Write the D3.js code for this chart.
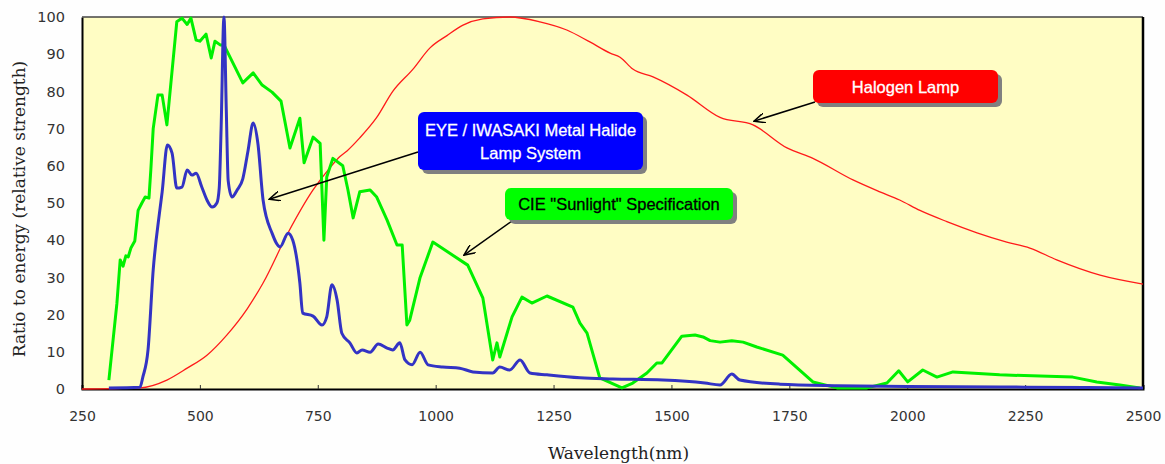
<!DOCTYPE html>
<html>
<head>
<meta charset="utf-8">
<script src="https://cdn.jsdelivr.net/npm/d3@7"></script>
<style>
  body { margin: 0; background: #fefefe; }
  svg { display: block; }
</style>
</head>
<body>
<div id="chart-container"></div>
<script>
// x axis ticks
var xTicks = [250, 500, 750, 1000, 1250, 1500, 1750, 2000, 2250, 2500];
var yTicks = [0, 10, 20, 30, 40, 50, 60, 70, 80, 90, 100];

// CIE "Sunlight" Specification
var sunWl = [307, 324, 331, 337, 343, 348, 354, 362, 369, 377, 384, 392, 396, 401, 411, 420, 430, 451, 462, 473, 481, 492, 500, 513, 524, 532, 543, 551, 591, 613, 632, 653, 672, 691, 712, 721, 740, 755, 763, 769, 782, 803, 814, 825, 839, 861, 875, 897, 918, 929, 939, 945, 967, 994, 1068, 1100, 1121, 1130, 1136, 1162, 1183, 1204, 1236, 1291, 1306, 1321, 1348, 1395, 1418, 1448, 1469, 1480, 1522, 1550, 1567, 1582, 1603, 1628, 1652, 1681, 1736, 1800, 1851, 1915, 1957, 1982, 2001, 2033, 2063, 2097, 2196, 2351, 2402, 2451, 2493];
var sunVal = [2.4, 23, 34.7, 33, 35.8, 35.5, 38, 39.8, 48, 50, 51.6, 51.3, 59, 70, 79, 79, 71, 98.7, 99.7, 98, 99.7, 93.8, 93.5, 95.4, 89, 93.5, 92.5, 92.5, 82.3, 85, 81.7, 79.8, 77.4, 64.8, 72.8, 60.8, 67.7, 66, 40, 57, 62, 60, 53.5, 46, 53, 53.5, 51.6, 45.4, 38.7, 38.7, 17.2, 18.5, 30, 39.5, 33.3, 24.5, 7.8, 12.4, 8.6, 19.4, 24.7, 23.1, 25, 22, 17.7, 15, 3, 0.3, 1.6, 4.3, 7, 7, 14.2, 14.5, 14, 13, 12.6, 13, 12.6, 11.3, 9.1, 1.9, 0.3, 0.3, 1.6, 4.9, 1.9, 5.1, 3.2, 4.6, 3.8, 3.2, 1.9, 1.1, 0.3];

// EYE / IWASAKI Metal Halide Lamp System
var mhWl = [307, 373, 379, 390, 401, 415, 420, 431, 441, 451, 462, 473, 483, 492, 504, 515, 526, 536, 541, 545, 551, 556, 560, 568, 579, 591, 602, 613, 623, 634, 653, 670, 687, 697, 712, 718, 740, 759, 769, 780, 791, 801, 818, 833, 844, 861, 878, 897, 909, 924, 935, 950, 967, 984, 1015, 1051, 1079, 1121, 1136, 1157, 1179, 1200, 1236, 1306, 1376, 1482, 1571, 1603, 1628, 1645, 1730, 1850, 2000, 2250, 2500];
var mhVal = [0.3, 0.5, 3.2, 10.5, 32, 48, 53, 65.6, 63.4, 54, 54.3, 58.9, 57.5, 58, 54.3, 50.8, 48.9, 50, 54, 70, 100, 75, 56, 51.6, 53.5, 56.5, 64, 71.5, 66, 50.8, 41.9, 38.2, 41.9, 40, 28.5, 20.4, 19.6, 17.2, 19.4, 28, 23.9, 15, 12.4, 9.7, 10.5, 9.9, 12.1, 11, 10.5, 12.4, 7.8, 6.5, 9.9, 6.5, 5.9, 5.6, 4.6, 4.3, 5.9, 5.1, 7.8, 4.3, 3.8, 3, 2.7, 2.4, 1.6, 1.1, 4, 2.4, 1.3, 0.9, 0.7, 0.5, 0.3];

// Halogen Lamp
var halWl = [250, 373, 430, 473, 515, 557, 600, 634, 687, 740, 776, 797, 812, 839, 875, 909, 952, 988, 1024, 1058, 1100, 1157, 1221, 1278, 1327, 1370, 1391, 1418, 1461, 1533, 1603, 1673, 1745, 1800, 1885, 1942, 1984, 2027, 2084, 2148, 2211, 2260, 2317, 2409, 2500];
var halVal = [0, 0.3, 2.4, 5.6, 9.1, 14.5, 21.5, 28.5, 42, 53.5, 59.5, 62.5, 64, 67.5, 73, 80, 86, 91.7, 95, 97.8, 99.5, 100, 98.7, 96.5, 93.3, 90.3, 89.2, 86, 83.9, 79, 73, 71, 64.8, 62, 56.2, 53, 50.8, 48, 45, 42, 39.5, 37.9, 34.7, 30.6, 28.2];

// callout labels and the data point each arrow points at
var calloutText = [["Halogen Lamp"], ["EYE / IWASAKI Metal Halide", "Lamp System"], ["CIE \"Sunlight\" Specification"]];
var calloutTipWl = [1675, 647, 1060];
var calloutTipVal = [72, 51, 36];

document.addEventListener('DOMContentLoaded', function() {
  visualise();
});

function visualise() {
  const svgWidth = 1165;
  const svgHeight = 464;
  const margin = {top: 17, left: 82, bottom: 75, right: 22};
  const w = svgWidth - margin.left - margin.right;
  const h = svgHeight - margin.top - margin.bottom;

  const svg = d3.select('#chart-container')
    .append('svg')
    .attr('width', svgWidth)
    .attr('height', svgHeight);

  const defs = svg.append('defs');
  defs.append('marker')
    .attr('id', 'arrow')
    .attr('viewBox', '0 0 12 10')
    .attr('refX', 11)
    .attr('refY', 5)
    .attr('markerWidth', 12)
    .attr('markerHeight', 10)
    .attr('markerUnits', 'userSpaceOnUse')
    .attr('orient', 'auto')
    .append('path')
    .attr('d', 'M0,0 L11,5 L0,10')
    .attr('fill', 'none')
    .attr('stroke', '#000')
    .attr('stroke-width', 1.5);

  const chart = svg.append('g')
    .attr('transform', 'translate(' + margin.left + ',' + margin.top + ')');

  const x = d3.scaleLinear().domain([250, 2500]).range([0, w]);
  const y = d3.scaleLinear().domain([0, 100]).range([h, 0]);

  // plot background
  chart.append('rect')
    .attr('width', w)
    .attr('height', h)
    .attr('fill', '#fffdc4');

  // x axis, ticks pointing inward
  const xAxis = chart.append('g')
    .attr('transform', 'translate(0,' + h + ')')
    .call(d3.axisBottom(x).tickValues(xTicks).tickSize(-4).tickPadding(22).tickFormat(d3.format('d')));
  xAxis.select('.domain').attr('stroke', '#000').attr('stroke-width', 2);
  xAxis.selectAll('.tick line').attr('stroke', '#333');
  xAxis.selectAll('text')
    .attr('font-family', 'DejaVu Sans')
    .attr('font-size', 14)
    .attr('fill', '#333');

  const yAxis = chart.append('g')
    .call(d3.axisLeft(y).tickValues(yTicks).tickSize(0).tickPadding(17));
  yAxis.select('.domain').attr('stroke', '#000').attr('stroke-width', 2);
  yAxis.selectAll('text')
    .attr('font-family', 'DejaVu Sans')
    .attr('font-size', 14.5)
    .attr('fill', '#333');

  // top and right frame
  chart.append('line')
    .attr('x1', 0).attr('x2', w).attr('y1', 0).attr('y2', 0)
    .attr('stroke', '#444').attr('stroke-width', 1.5);
  chart.append('line')
    .attr('x1', w).attr('x2', w).attr('y1', 0).attr('y2', h)
    .attr('stroke', '#000').attr('stroke-width', 2.5);

  function series(wl, val) {
    return wl.map(function(d, i) { return {wl: d, v: val[i]}; });
  }

  const straight = d3.line()
    .x(function(d) { return x(d.wl); })
    .y(function(d) { return y(d.v); });
  const smooth = d3.line()
    .x(function(d) { return x(d.wl); })
    .y(function(d) { return y(d.v); })
    .curve(d3.curveMonotoneX);

  chart.append('path')
    .datum(series(halWl, halVal))
    .attr('fill', 'none')
    .attr('stroke', '#ff1a1a')
    .attr('stroke-width', 1.3)
    .attr('d', smooth);

  chart.append('path')
    .datum(series(sunWl, sunVal))
    .attr('fill', 'none')
    .attr('stroke', '#00f000')
    .attr('stroke-width', 3)
    .attr('stroke-linejoin', 'round')
    .attr('d', straight);

  chart.append('path')
    .datum(series(mhWl, mhVal))
    .attr('fill', 'none')
    .attr('stroke', '#3333c4')
    .attr('stroke-width', 3)
    .attr('stroke-linejoin', 'round')
    .attr('d', smooth);

  // callout boxes (page coordinates)
  const boxes = [
    {x: 813, y: 70, w: 185, h: 33, fill: '#ff0000', color: '#fff', tail: [815, 102]},
    {x: 418, y: 112, w: 225, h: 58, fill: '#0000ff', color: '#fff', tail: [418, 152]},
    {x: 505, y: 188, w: 228, h: 32, fill: '#00ff00', color: '#000', tail: [512, 221]}
  ];

  boxes.forEach(function(b, i) {
    svg.append('line')
      .attr('x1', b.tail[0]).attr('y1', b.tail[1])
      .attr('x2', margin.left + x(calloutTipWl[i]))
      .attr('y2', margin.top + y(calloutTipVal[i]))
      .attr('stroke', '#000')
      .attr('stroke-width', 1.5)
      .attr('marker-end', 'url(#arrow)');
  });

  boxes.forEach(function(b, i) {
    svg.append('rect')
      .attr('x', b.x + 4).attr('y', b.y + 4)
      .attr('width', b.w).attr('height', b.h)
      .attr('rx', 6)
      .attr('fill', '#808080');
    svg.append('rect')
      .attr('x', b.x).attr('y', b.y)
      .attr('width', b.w).attr('height', b.h)
      .attr('rx', 6)
      .attr('fill', b.fill);
    const lines = calloutText[i];
    const lh = 23;
    const y0 = b.y + b.h / 2 - (lines.length - 1) * lh / 2 + 6;
    lines.forEach(function(t, j) {
      svg.append('text')
        .attr('x', b.x + b.w / 2)
        .attr('y', y0 + j * lh)
        .attr('text-anchor', 'middle')
        .attr('font-family', 'Liberation Sans, Arial, sans-serif')
        .attr('font-size', 16.5)
        .attr('stroke', b.color)
        .attr('stroke-width', 0.3)
        .attr('fill', b.color)
        .text(t);
    });
  });

  // axis titles
  svg.append('text')
    .attr('x', margin.left + w / 2 + 6)
    .attr('y', 459)
    .attr('text-anchor', 'middle')
    .attr('font-family', 'DejaVu Serif')
    .attr('font-size', 17)
    .attr('fill', '#222')
    .text('Wavelength(nm)');

  svg.append('text')
    .attr('transform', 'translate(25,' + (margin.top + h / 2 + 6) + ') rotate(-90)')
    .attr('text-anchor', 'middle')
    .attr('font-family', 'DejaVu Serif')
    .attr('font-size', 17)
    .attr('fill', '#222')
    .text('Ratio to energy (relative strength)');
}
</script>
</body>
</html>
